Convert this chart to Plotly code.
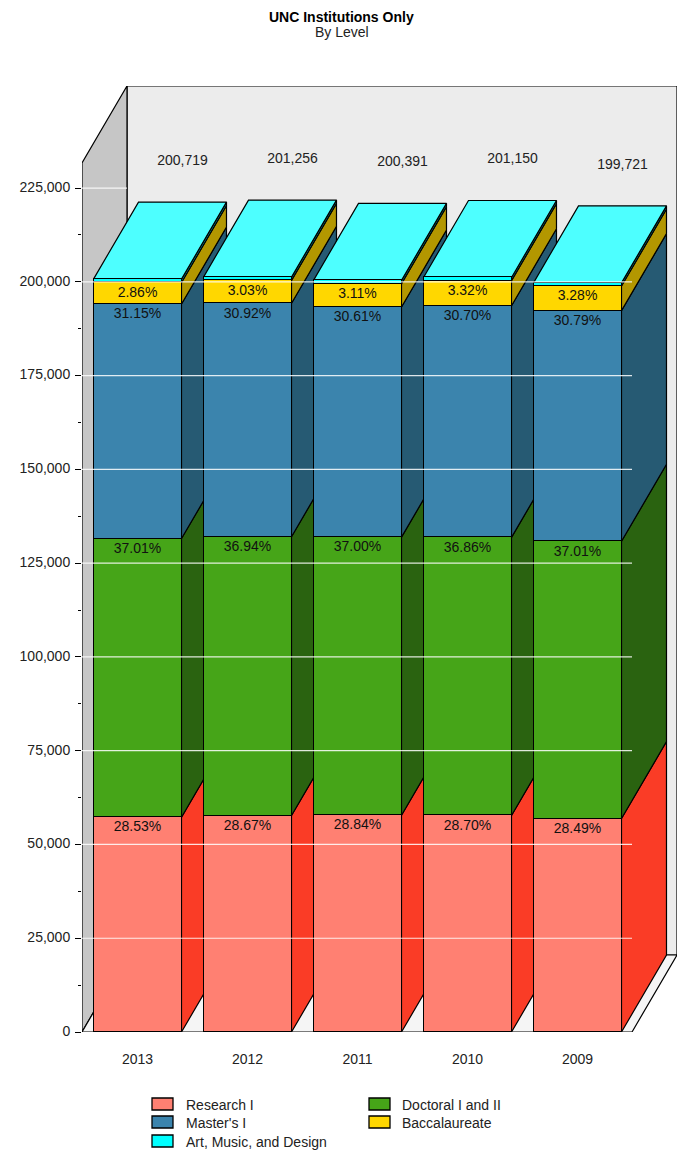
import plotly.graph_objects as go

YEARS = ["2013", "2012", "2011", "2010", "2009"]
POSITIONS = [0, 1, 2, 3, 4]
TOTALS = [200719, 201256, 200391, 201150, 199721]
RESEARCH = [57265, 57700, 57793, 57730, 56900]
DOCTORAL = [74286, 74344, 74145, 74144, 73917]
MASTERS = [62524, 62228, 61340, 61753, 61494]
BACCALAUREATE = [5741, 6098, 6232, 6678, 6551]
ART = [903, 886, 881, 845, 859]
PCT_RESEARCH = ["28.53%", "28.67%", "28.84%", "28.70%", "28.49%"]
PCT_DOCTORAL = ["37.01%", "36.94%", "37.00%", "36.86%", "37.01%"]
PCT_MASTERS = ["31.15%", "30.92%", "30.61%", "30.70%", "30.79%"]
PCT_BACC = ["2.86%", "3.03%", "3.11%", "3.32%", "3.28%"]
TOTAL_LABELS = ["200,719", "201,256", "200,391", "201,150", "199,721"]
Y_TICKS = [0, 25000, 50000, 75000, 100000, 125000, 150000, 175000, 200000, 225000]
Y_TICK_TEXT = ["0", "25,000", "50,000", "75,000", "100,000", "125,000", "150,000", "175,000", "200,000", "225,000"]
Y_MINOR = [12500, 37500, 62500, 87500, 112500, 137500, 162500, 187500, 212500]

SERIES = [
    ("Research I", RESEARCH, "#ff8072", "#fa3c26", PCT_RESEARCH),
    ("Doctoral I and II", DOCTORAL, "#46a518", "#2a6310", PCT_DOCTORAL),
    ("Master's I", MASTERS, "#3b84ad", "#265a73", PCT_MASTERS),
    ("Baccalaureate", BACCALAUREATE, "#ffd700", "#b39700", PCT_BACC),
    ("Art, Music, and Design", ART, "#00ffff", "#00b3b3", None),
]
TOP_COLOR = "#4dffff"
FONT = "Liberation Sans"
TEXT = "#222222"

# pixel frame of the plot area
L, R, T, B = 82, 677, 86, 1032
W, H = 683, 1153
X_MIN, X_MAX = -0.5045, 4.9045
Y_MAX = 252200
DX = 0.409      # depth of the pseudo-3D box, x units
DY = 20528      # depth of the pseudo-3D box, y units
BAR_W = 0.80
FRONT_RIGHT = X_MAX - DX
LW = 1.2
LABEL_DROP = 1000   # percentage labels sit a little below each segment top
TOTAL_RISE = 10800  # totals float above the back edge of the bar


def poly(xs, ys, fill, line="#000000", lw=LW):
    return go.Scatter(
        x=xs + xs[:1], y=ys + ys[:1], mode="lines", fill="toself", fillcolor=fill,
        line=dict(color=line, width=lw), hoverinfo="skip", showlegend=False,
        xaxis="x", yaxis="y",
    )


fig = go.Figure()

# box walls
fig.add_trace(poly([X_MIN + DX, X_MAX, X_MAX, X_MIN + DX], [DY, DY, Y_MAX, Y_MAX], "#ececec"))
fig.add_trace(poly([X_MIN, X_MIN + DX, X_MIN + DX, X_MIN], [0, DY, Y_MAX, Y_MAX - DY], "#c6c6c6"))
fig.add_trace(poly([X_MIN, FRONT_RIGHT, X_MAX, X_MIN + DX], [0, 0, DY, DY], "#f5f5f5"))

# side and top faces, left to right, bottom to top
for i, pos in enumerate(POSITIONS):
    xl, xr = pos - BAR_W / 2, pos + BAR_W / 2
    base = 0
    for name, vals, front, side, _ in SERIES:
        top = base + vals[i]
        fig.add_trace(poly([xr, xr + DX, xr + DX, xr], [base, base + DY, top + DY, top], side))
        base = top
    fig.add_trace(poly([xl, xl + DX, xr + DX, xr], [base, base + DY, base + DY, base], TOP_COLOR))

# front faces as real stacked bars on the overlay axes
for name, vals, front, side, _ in SERIES:
    fig.add_trace(go.Bar(
        x=POSITIONS, y=vals, width=BAR_W, name=name, marker=dict(color=front, line=dict(color="#000000", width=LW)),
        xaxis="x2", yaxis="y2", showlegend=False,
    ))

# white grid lines above the bars
gx, gy = [], []
for t in Y_TICKS[1:]:
    end = X_MIN + DX if t == 225000 else FRONT_RIGHT
    gx += [X_MIN, end, None]
    gy += [t, t, None]
fig.add_trace(go.Scatter(x=gx, y=gy, mode="lines", line=dict(color="rgba(255,255,255,0.85)", width=1.2),
                         hoverinfo="skip", showlegend=False, xaxis="x2", yaxis="y2"))

# percentage labels under the top edge of each segment
base = [0] * 5
for name, vals, front, side, pct in SERIES:
    base = [b + v for b, v in zip(base, vals)]
    if pct:
        fig.add_trace(go.Scatter(x=POSITIONS, y=[b - LABEL_DROP for b in base], mode="text", text=pct,
                                 textposition="bottom center",
                                 textfont=dict(family=FONT, size=14, color="#111111"),
                                 hoverinfo="skip", showlegend=False, xaxis="x2", yaxis="y2"))

# totals above the back edge of each bar
fig.add_trace(go.Scatter(x=[p + DX for p in POSITIONS], y=[t + DY + TOTAL_RISE for t in TOTALS], mode="text",
                         text=TOTAL_LABELS, textposition="middle center",
                         textfont=dict(family=FONT, size=14, color=TEXT),
                         hoverinfo="skip", showlegend=False, xaxis="x2", yaxis="y2"))


def px(x):
    return (x - L) / (R - L)


def py(y):
    return (B - y) / (B - T)


# legend
LEG = [
    (0, 152, 173, 184, 1098, 1110, 1105),
    (1, 369, 390, 400, 1098, 1110, 1105),
    (2, 152, 173, 184, 1116, 1128, 1123),
    (3, 369, 390, 400, 1116, 1128, 1123),
    (4, 152, 173, 184, 1135, 1147, 1142),
]
shapes, annots = [], []
for idx, x0, x1, tx, y0, y1, yt in LEG:
    shapes.append(dict(type="rect", xref="paper", yref="paper", x0=px(x0), x1=px(x1), y0=py(y0), y1=py(y1),
                       fillcolor=SERIES[idx][2], line=dict(color="#000000", width=1.3)))
    annots.append(dict(xref="paper", yref="paper", x=px(tx), y=py(yt), text=SERIES[idx][0], showarrow=False,
                       xanchor="left", yanchor="middle", font=dict(family=FONT, size=14, color=TEXT)))

annots.append(dict(xref="paper", yref="paper", x=px(341.5), y=py(17), text="<b>UNC Institutions Only</b>", showarrow=False,
                   xanchor="center", yanchor="middle", font=dict(family=FONT, size=14, color="#000000")))
annots.append(dict(xref="paper", yref="paper", x=px(341.5), y=py(32), text="By Level", showarrow=False,
                   xanchor="center", yanchor="middle", font=dict(family=FONT, size=14, color=TEXT)))

fig.update_layout(
    width=W, height=H, autosize=False, barmode="stack", bargap=0, showlegend=False,
    margin=dict(l=L, r=W - R, t=T, b=H - B, pad=0),
    paper_bgcolor="#ffffff", plot_bgcolor="rgba(0,0,0,0)",
    font=dict(family=FONT, size=14, color=TEXT),
    shapes=shapes, annotations=annots,
    xaxis=dict(range=[X_MIN, X_MAX], visible=False, fixedrange=True, showgrid=False, zeroline=False),
    yaxis=dict(range=[0, Y_MAX], visible=False, fixedrange=True, showgrid=False, zeroline=False),
    xaxis2=dict(range=[X_MIN, X_MAX], overlaying="x", anchor="y2", side="bottom", tickmode="array",
                tickvals=POSITIONS, ticktext=YEARS, ticks="outside", ticklen=14, tickcolor="rgba(0,0,0,0)",
                showgrid=False, zeroline=False, showline=False, fixedrange=True,
                tickfont=dict(family=FONT, size=14, color=TEXT)),
    yaxis2=dict(range=[0, Y_MAX], overlaying="y", anchor="x2", side="left", tickmode="array",
                tickvals=Y_TICKS, ticktext=Y_TICK_TEXT, ticks="outside", ticklen=6, tickwidth=1.2, tickcolor="#000000",
                ticklabelstandoff=2, ticklabelshift=-1,
                minor=dict(tickmode="array", tickvals=Y_MINOR, ticks="outside", ticklen=3, tickwidth=1.2, tickcolor="#000000", showgrid=False),
                showgrid=False, zeroline=False, showline=False, fixedrange=True,
                tickfont=dict(family=FONT, size=14, color=TEXT)),
)

fig.write_html("out.html", post_script="document.body.style.margin='0';", config={"displayModeBar": False})
